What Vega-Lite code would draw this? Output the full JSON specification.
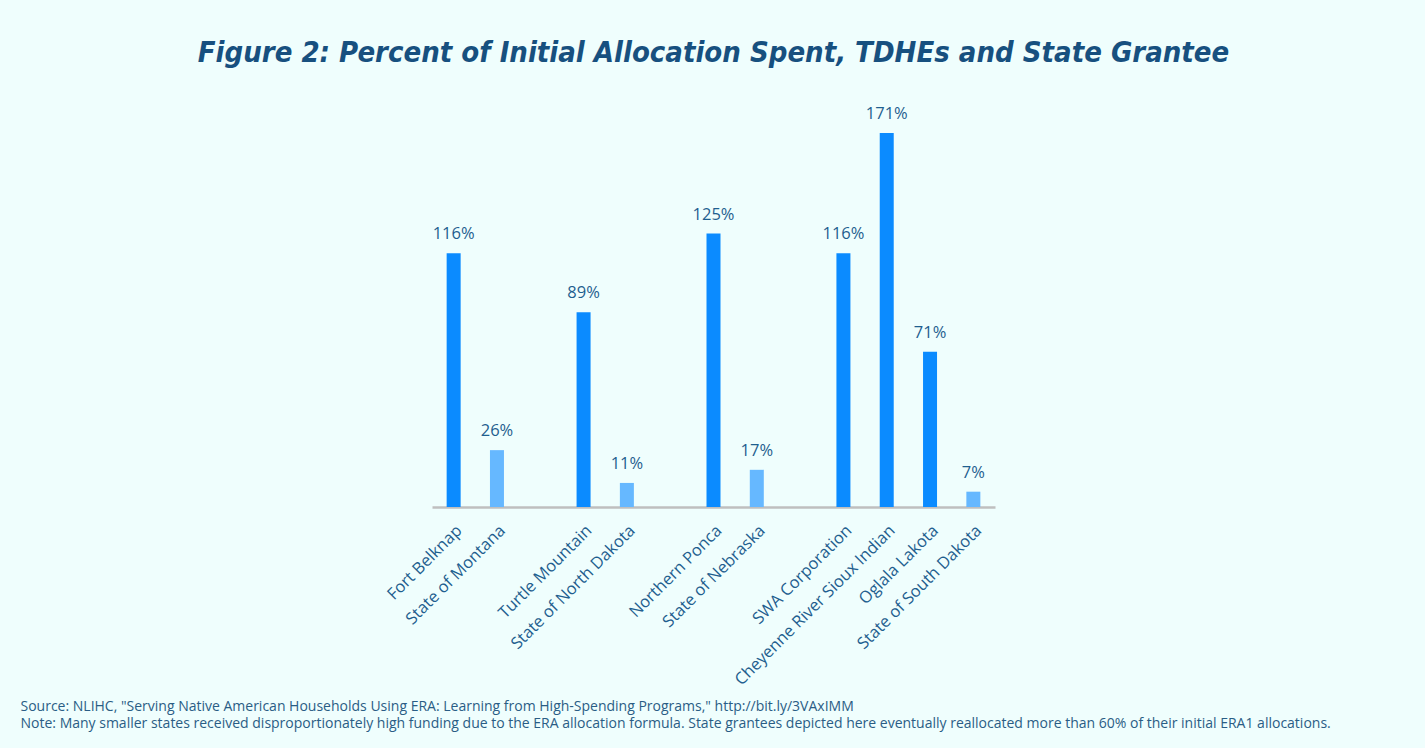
{
  "$schema": "https://vega.github.io/schema/vega-lite/v6.json",
  "width": 563,
  "height": 374,
  "autosize": "none",
  "padding": {"left": 432, "right": 430, "top": 133, "bottom": 241},
  "background": "#effefd",
  "title": {
    "text": "Figure 2:  Percent of Initial Allocation Spent, TDHEs  and State Grantee",
    "font": "DejaVu Sans Condensed, Liberation Sans Narrow, Roboto, sans-serif",
    "fontSize": 29,
    "fontWeight": "bold",
    "fontStyle": "italic",
    "color": "#17507f",
    "anchor": "middle",
    "frame": "group",
    "offset": 38
  },
  "data": {
    "values": [
      {"name": "Fort Belknap", "type": "tribe", "pct": 116},
      {"name": "State of Montana", "type": "state", "pct": 26},
      {"name": "Turtle Mountain", "type": "tribe", "pct": 89},
      {"name": "State of North Dakota", "type": "state", "pct": 11},
      {"name": "Northern Ponca", "type": "tribe", "pct": 125},
      {"name": "State of Nebraska", "type": "state", "pct": 17},
      {"name": "SWA Corporation", "type": "tribe", "pct": 116},
      {"name": "Cheyenne River Sioux Indian", "type": "tribe", "pct": 171},
      {"name": "Oglala Lakota", "type": "tribe", "pct": 71},
      {"name": "State of South Dakota", "type": "state", "pct": 7}
    ]
  },
  "encoding": {
    "x": {
      "field": "name",
      "type": "nominal",
      "sort": null,
      "scale": {
        "domain": ["Fort Belknap", "State of Montana", " ", "Turtle Mountain", "State of North Dakota", "  ", "Northern Ponca", "State of Nebraska", "   ", "SWA Corporation", "Cheyenne River Sioux Indian", "Oglala Lakota", "State of South Dakota"],
        "paddingInner": 0,
        "paddingOuter": 0
      },
      "axis": {
        "title": ["Source: NLIHC, \"Serving Native American Households Using ERA: Learning from High-Spending Programs,\" http://bit.ly/3VAxIMM", "Note: Many smaller states received disproportionately high funding due to the ERA allocation formula. State grantees depicted here eventually reallocated more than 60% of their initial ERA1 allocations."],
        "titleX": -412,
        "titleY": 203,
        "titleAlign": "left",
        "titleAnchor": "start",
        "titleBaseline": "alphabetic",
        "titleFont": "Open Sans",
        "titleFontSize": 14,
        "titleFontWeight": "normal",
        "titleColor": "#2a5d85",
        "titleLineHeight": 17.5,
        "labelAngle": -45,
        "labelFont": "Open Sans",
        "labelFontSize": 16.5,
        "labelColor": "#1f5f8f",
        "labelPadding": 15,
        "labelLimit": 0,
        "ticks": false,
        "domainColor": "#bfbfbf",
        "domainWidth": 2.5,
        "grid": false
      }
    },
    "y": {
      "field": "pct",
      "type": "quantitative",
      "scale": {"domain": [0, 171], "nice": false},
      "axis": null
    }
  },
  "layer": [
    {
      "mark": {"type": "bar", "width": 14},
      "encoding": {
        "color": {
          "field": "type",
          "type": "nominal",
          "scale": {"domain": ["tribe", "state"], "range": ["#0b8bff", "#66b8ff"]},
          "legend": null
        }
      }
    },
    {
      "transform": [{"calculate": "format(datum.pct, 'd') + '%'", "as": "label"}],
      "mark": {"type": "text", "dy": -14, "baseline": "alphabetic", "font": "Open Sans", "fontSize": 16.5, "color": "#1f5f8f"},
      "encoding": {
        "text": {"field": "label", "type": "nominal"}
      }
    }
  ],
  "config": {
    "view": {"stroke": null}
  }
}
